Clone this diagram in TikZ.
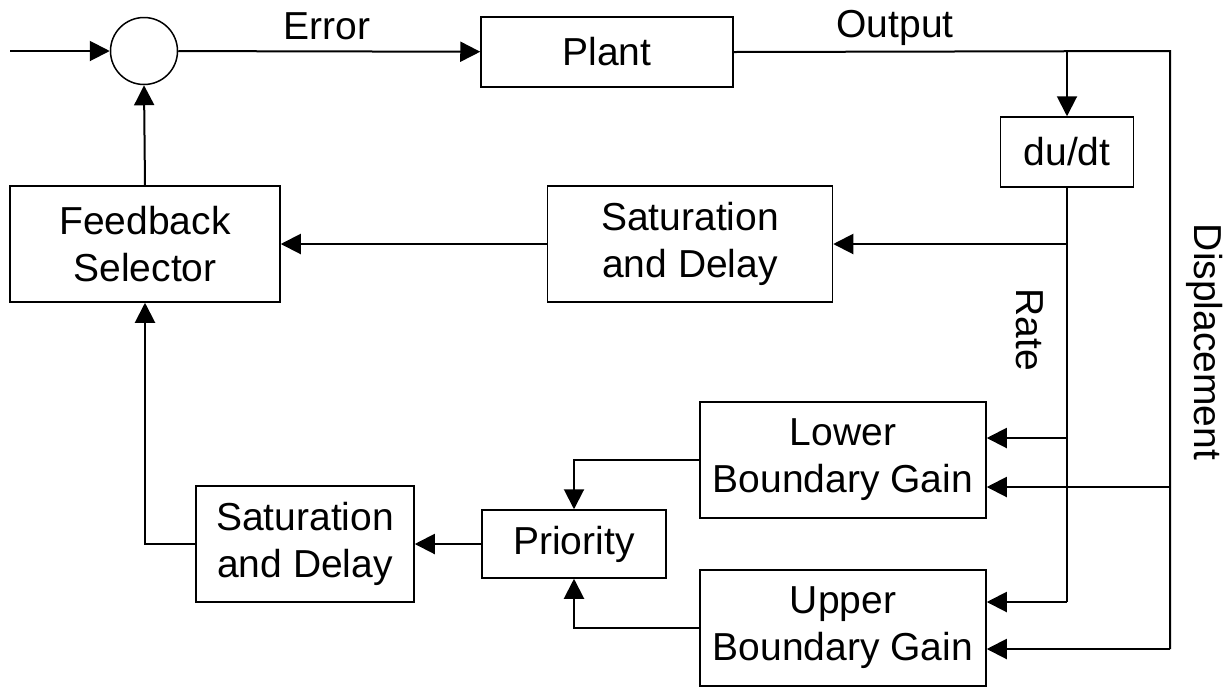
\documentclass[tikz,border=0pt]{standalone}
\usepackage{fontspec}
\setmainfont{Liberation Sans}
\usetikzlibrary{arrows.meta}

\tikzset{
  blk/.style={draw, line width=0.75pt, align=center, inner sep=0pt, font=\fontsize{19.5}{23.5}\selectfont},
  lbl/.style={font=\fontsize{19.5}{23.5}\selectfont},
  sig/.style={line width=1pt, -{Triangle[length=10pt,width=10pt]}},
  wire/.style={line width=1pt}
}

\begin{document}
\begin{tikzpicture}[x=0.5pt, y=-0.5pt]
\useasboundingbox (0,0) rectangle (1227,687);

% blocks
\node[blk, circle, minimum size=33.5pt] (sum) at (144,51) {};
\node[blk, minimum width=126pt, minimum height=35pt] (plant) at (607,52) {Plant};
\node[blk, minimum width=66.5pt, minimum height=35pt] (dudt) at (1067,152) {du/dt};
\node[blk, minimum width=142.5pt, minimum height=58pt] (sattop) at (690,244) {Saturation\\and Delay};
\node[blk, minimum width=135pt, minimum height=58pt] (fb) at (145,244) {Feedback\\Selector};
\node[blk, minimum width=143pt, minimum height=58pt] (lower) at (843,460) {Lower\\Boundary Gain};
\node[blk, minimum width=143pt, minimum height=58pt] (upper) at (843,628) {Upper\\Boundary Gain};
\node[blk, minimum width=92pt, minimum height=34pt] (prio) at (574,544) {Priority};
\node[blk, minimum width=109pt, minimum height=58pt] (satbot) at (305,544) {Saturation\\and Delay};

% labels
\node[lbl] (err) at (327,26) {Error};
\node[lbl] (out) at (895,28) {Output};
\node[lbl, rotate=-90] (rate) at (1030,330) {Rate};
\node[lbl, rotate=-90] (disp) at (1205,342) {Displacement};

% points on the wires
\coordinate (in) at (10,51);
\coordinate (tap) at (1067,51);
\coordinate (dtop) at (1170,51);
\coordinate (dmid) at (1170,487);
\coordinate (dbot) at (1170,649);
\coordinate (r1) at (1067,244);
\coordinate (r2) at (1067,438);
\coordinate (rbot) at (1067,602);

% forward path
\draw[sig] (in) -- (sum);
\draw[sig] (sum) -- (plant);
\draw[wire] (plant.east) -- (dtop) -- (dbot);
\draw[sig] (tap) -- (dudt.north);

% displacement
\draw[sig] (dmid) -- (lower.east |- dmid);
\draw[sig] (dbot) -- (upper.east |- dbot);

% rate
\draw[wire] (dudt.south) -- (rbot);
\draw[sig] (r1) -- (sattop.east);
\draw[sig] (r2) -- (lower.east |- r2);
\draw[sig] (rbot) -- (upper.east |- rbot);

% feedback
\draw[sig] (sattop.west) -- (fb.east);
\draw[sig] (fb.north) -- (sum.south);
\draw[sig] (lower.west) -| (prio.north);
\draw[sig] (upper.west) -| (prio.south);
\draw[sig] (prio.west) -- (satbot.east);
\draw[sig] (satbot.west) -| (fb.south);

\end{tikzpicture}
\end{document}
